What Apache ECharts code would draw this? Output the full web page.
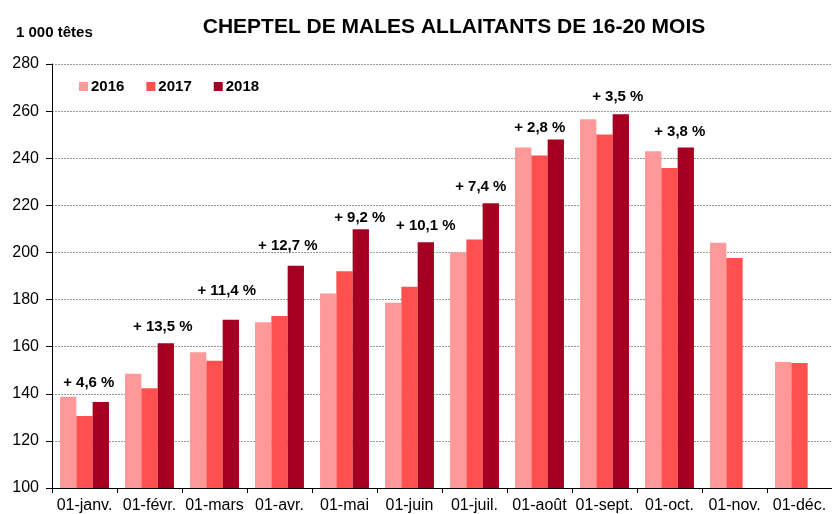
<!DOCTYPE html>
<html>
<head>
<meta charset="utf-8">
<script src="https://cdn.jsdelivr.net/npm/echarts@6/dist/echarts.min.js"></script>
<style>
  html, body { margin: 0; padding: 0; background: #fff; }
  #main { width: 832px; height: 514px; }
</style>
</head>
<body>
<div id="main"></div>
<script>
// mois (1er du mois)
var months = ['01-janv.', '01-févr.', '01-mars', '01-avr.', '01-mai', '01-juin',
              '01-juil.', '01-août', '01-sept.', '01-oct.', '01-nov.', '01-déc.'];

// cheptel en milliers de têtes
var cheptel2016 = [138.7, 148.5, 157.6, 170.4, 182.6, 178.6, 200.0, 244.6, 256.5, 243.0, 204.1, 153.5];
var cheptel2017 = [130.6, 142.3, 154.0, 173.0, 192.0, 185.4, 205.5, 241.2, 250.1, 235.8, 197.6, 153.1];
var cheptel2018 = [136.5, 161.4, 171.4, 194.3, 209.8, 204.3, 220.9, 248.0, 258.7, 244.6, null, null];

// évolution 2018/2017
var evolution = ['+ 4,6 %', '+ 13,5 %', '+ 11,4 %', '+ 12,7 %', '+ 9,2 %', '+ 10,1 %',
                 '+ 7,4 %', '+ 2,8 %', '+ 3,5 %', '+ 3,8 %', '', ''];

// décalage des étiquettes (placées à la main dans l'original)
var labelShift = [[-12, -7], [-3, -4], [-4, -16], [-8, -8], [-1, 1], [0, -4],
                  [-10, -4], [-16, 1], [-3, -5], [-6, -3], [0, 0], [0, 0]];

var font = 'Liberation Sans, Arial, sans-serif';
var chart = echarts.init(document.getElementById('main'));

var data2018 = cheptel2018.map(function (v, i) {
    return {
        value: v,
        label: { offset: labelShift[i] }
    };
});

chart.setOption({
    animation: false,
    textStyle: { fontFamily: font },
    title: [
        {
            text: 'CHEPTEL DE MALES ALLAITANTS DE 16-20 MOIS',
            left: 449, top: 12, textAlign: 'center',
            textStyle: { fontSize: 21, fontWeight: 'bold', color: '#000', fontFamily: font }
        },
        {
            text: '1 000 têtes',
            left: 11, top: 20,
            textStyle: { fontSize: 15, fontWeight: 'bold', color: '#000', fontFamily: font }
        }
    ],
    legend: {
        left: 74, top: 74,
        icon: 'rect',
        itemWidth: 9, itemHeight: 9, itemGap: 22,
        textStyle: { fontSize: 15, fontWeight: 'bold', color: '#000', fontFamily: font, padding: [0, 0, 0, -2] },
        data: ['2016', '2017', '2018']
    },
    grid: { left: 52, right: 0, top: 64, bottom: 26 },
    xAxis: {
        type: 'category',
        data: months,
        axisLine: { lineStyle: { color: '#000', width: 1 } },
        axisTick: { show: true, length: 5, lineStyle: { color: '#000' } },
        axisLabel: { color: '#000', fontSize: 16, margin: 10, fontFamily: font, interval: 0 }
    },
    yAxis: {
        type: 'value',
        min: 100, max: 280, interval: 20,
        axisLine: { show: true, lineStyle: { color: '#000', width: 1 } },
        axisTick: { show: true, length: 6, lineStyle: { color: '#000' } },
        axisLabel: { color: '#000', fontSize: 16, margin: 13, fontFamily: font },
        splitLine: { lineStyle: { color: '#9a9a9a', width: 1, type: [2, 1] } }
    },
    series: [
        {
            name: '2016', type: 'bar', data: cheptel2016,
            barWidth: 16.3, barGap: '0%',
            itemStyle: { color: '#ff9999' }
        },
        {
            name: '2017', type: 'bar', data: cheptel2017,
            barWidth: 16.3, barGap: '0%',
            itemStyle: { color: '#ff5050' }
        },
        {
            name: '2018', type: 'bar', data: data2018,
            barWidth: 16.3, barGap: '0%',
            itemStyle: { color: '#a50021' },
            label: {
                show: true, position: 'top', distance: 5,
                fontSize: 15, fontWeight: 'bold', color: '#000', fontFamily: font,
                formatter: function (p) { return evolution[p.dataIndex]; }
            }
        }
    ]
});
</script>
</body>
</html>
